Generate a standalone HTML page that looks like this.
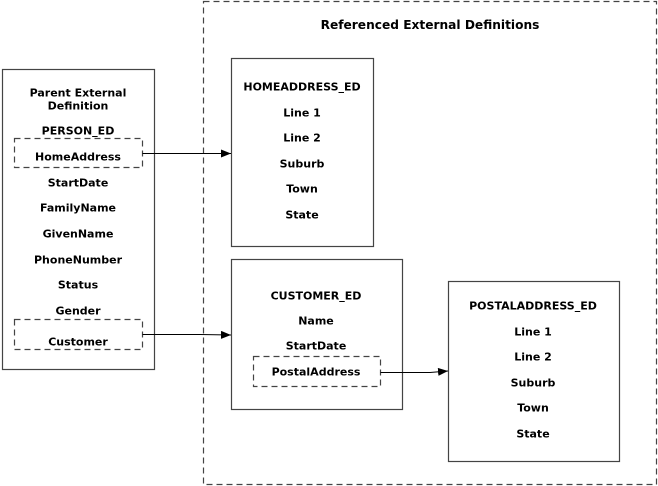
<!DOCTYPE html>
<html><head><style>html,body{margin:0;padding:0;background:#fff}svg{display:block}
text{font-family:"DejaVu Sans","Liberation Sans",sans-serif;font-weight:bold;font-size:11px;fill:#000;text-anchor:middle;dominant-baseline:central}</style></head>
<body>
<svg width="658" height="486" viewBox="0 0 658 486" xmlns="http://www.w3.org/2000/svg">
<defs><marker id="a" markerWidth="10" markerHeight="8" refX="10" refY="4" orient="auto" markerUnits="userSpaceOnUse"><path d="M0,0L10,4L0,8z" fill="#000"/></marker></defs>
<g fill="none" stroke="#444" stroke-width="1.2">
<rect x="203.5" y="1.5" width="453" height="483" stroke-dasharray="6,4"/>
<rect x="2.5" y="69.5" width="152" height="300"/>
<rect x="231.5" y="58.5" width="142" height="188"/>
<rect x="231.5" y="259.5" width="171" height="150"/>
<rect x="448.5" y="281.5" width="171" height="180"/>
<rect x="14.5" y="138.5" width="128" height="29" stroke-dasharray="6,4"/>
<rect x="14.5" y="319.5" width="128" height="30" stroke-dasharray="6,4"/>
<rect x="253.5" y="356.5" width="127" height="30" stroke-dasharray="6,4"/>
<path d="M142.5,153.5H231" stroke="#000" stroke-width="1" marker-end="url(#a)"/>
<path d="M142.5,334.5H200L231,335" stroke="#000" stroke-width="1" marker-end="url(#a)"/>
<path d="M380.5,372.5H430L448,371" stroke="#000" stroke-width="1" marker-end="url(#a)"/>
</g>
<text x="430" y="25" style="font-size:12.2px">Referenced External Definitions</text>
<text x="78" y="93">Parent External</text>
<text x="78" y="106">Definition</text>
<text x="78" y="131">PERSON_ED</text>
<text x="78" y="157">HomeAddress</text>
<text x="78" y="183">StartDate</text>
<text x="78" y="208">FamilyName</text>
<text x="78" y="234">GivenName</text>
<text x="78" y="260">PhoneNumber</text>
<text x="78" y="285">Status</text>
<text x="78" y="311">Gender</text>
<text x="78" y="342">Customer</text>
<text x="302" y="87">HOMEADDRESS_ED</text>
<text x="302" y="113">Line 1</text>
<text x="302" y="138">Line 2</text>
<text x="302" y="164">Suburb</text>
<text x="302" y="189">Town</text>
<text x="302" y="215">State</text>
<text x="316" y="296">CUSTOMER_ED</text>
<text x="316" y="321">Name</text>
<text x="316" y="346">StartDate</text>
<text x="316" y="372">PostalAddress</text>
<text x="533" y="306">POSTALADDRESS_ED</text>
<text x="533" y="332">Line 1</text>
<text x="533" y="357">Line 2</text>
<text x="533" y="383">Suburb</text>
<text x="533" y="408">Town</text>
<text x="533" y="434">State</text>
</svg>
</body></html>
